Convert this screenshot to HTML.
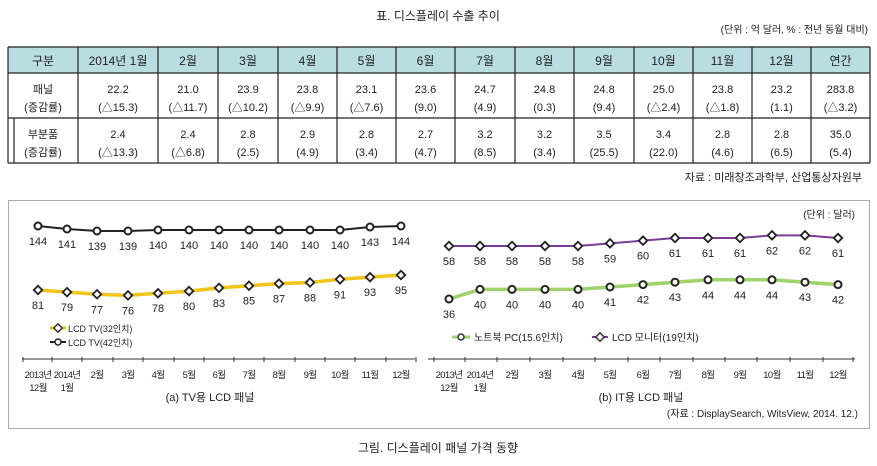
<!DOCTYPE html>
<html><head><meta charset="utf-8"><style>
body{margin:0;background:#fff;}
svg text{font-family:"Liberation Sans","Noto Sans CJK KR",sans-serif;fill:#222;}
</style></head><body>
<svg id="s" width="877" height="461" viewBox="0 0 877 461" xmlns="http://www.w3.org/2000/svg">
<text x="438" y="20" font-size="12" text-anchor="middle">표. 디스플레이 수출 추이</text>
<text x="868" y="33" font-size="10" text-anchor="end">(단위 : 억 달러, % : 전년 동월 대비)</text>
<rect x="8" y="47" width="862" height="26" fill="#b9dde0"/>
<g id="tbl" stroke="#222" stroke-width="1.2" fill="none">
<line x1="8" y1="47" x2="870" y2="47"/><line x1="8" y1="73" x2="870" y2="73"/>
<line x1="8" y1="118" x2="870" y2="118"/><line x1="8" y1="163" x2="870" y2="163"/>
<line x1="8" y1="47" x2="8" y2="163"/><line x1="14" y1="118" x2="14" y2="163"/>
</g>
<text x="862" y="181" font-size="11" text-anchor="end">자료 : 미래창조과학부, 산업통상자원부</text>
<rect x="8.5" y="200.5" width="861" height="228" fill="none" stroke="#aaa"/>
<text x="855" y="218" font-size="10" text-anchor="end">(단위 : 달러)</text>
<line x1="22" y1="359" x2="415" y2="359" stroke="#333"/>
<line x1="428" y1="359" x2="855" y2="359" stroke="#333"/>
<text x="210" y="401" font-size="11" text-anchor="middle">(a) TV용 LCD 패널</text>
<text x="641" y="401" font-size="11" text-anchor="middle">(b) IT용 LCD 패널</text>
<text x="858" y="417" font-size="10" text-anchor="end">(자료 : DisplaySearch, WitsView, 2014. 12.)</text>
<text x="438" y="452" font-size="12" text-anchor="middle">그림. 디스플레이 패널 가격 동향</text>
<line x1="50" y1="328" x2="66" y2="328" stroke="#e8c21a" stroke-width="3"/>
<rect x="55" y="325" width="6" height="6" transform="rotate(45 58 328)" fill="#fff" stroke="#333" stroke-width="1.5"/>
<text x="68" y="332" font-size="9">LCD TV(32인치)</text>
<line x1="50" y1="342" x2="66" y2="342" stroke="#222" stroke-width="2"/>
<circle cx="58" cy="342" r="3" fill="#fff" stroke="#222" stroke-width="1.5"/>
<text x="68" y="346" font-size="9">LCD TV(42인치)</text>
<line x1="452" y1="337" x2="470" y2="337" stroke="#9ed26a" stroke-width="3"/>
<circle cx="461" cy="337" r="3" fill="#fff" stroke="#333" stroke-width="1.5"/>
<text x="474" y="341" font-size="10">노트북 PC(15.6인치)</text>
<line x1="592" y1="337" x2="608" y2="337" stroke="#7a3d9a" stroke-width="2"/>
<rect x="597" y="334" width="6" height="6" transform="rotate(45 600 337)" fill="#fff" stroke="#333" stroke-width="1.5"/>
<text x="612" y="341" font-size="10">LCD 모니터(19인치)</text>
</svg>
<script>
const S=document.getElementById('s'),NS='http://www.w3.org/2000/svg';
function el(t,a,txt){const e=document.createElementNS(NS,t);for(const k in a)e.setAttribute(k,a[k]);if(txt!=null)e.textContent=txt;S.appendChild(e);return e;}
const cols=[8,78,158,218,278,337,396,455,515,574,634,693,752,811,870];
const tg=document.getElementById('tbl');
cols.slice(1).forEach(x=>{const l=document.createElementNS(NS,'line');l.setAttribute('x1',x);l.setAttribute('x2',x);l.setAttribute('y1',47);l.setAttribute('y2',163);tg.appendChild(l);});
const hdr=['구분','2014년 1월','2월','3월','4월','5월','6월','7월','8월','9월','10월','11월','12월','연간'];
const r1=[['패널','(증감률)'],['22.2','(△15.3)'],['21.0','(△11.7)'],['23.9','(△10.2)'],['23.8','(△9.9)'],['23.1','(△7.6)'],['23.6','(9.0)'],['24.7','(4.9)'],['24.8','(0.3)'],['24.8','(9.4)'],['25.0','(△2.4)'],['23.8','(△1.8)'],['23.2','(1.1)'],['283.8','(△3.2)']];
const r2=[['부분품','(증감률)'],['2.4','(△13.3)'],['2.4','(△6.8)'],['2.8','(2.5)'],['2.9','(4.9)'],['2.8','(3.4)'],['2.7','(4.7)'],['3.2','(8.5)'],['3.2','(3.4)'],['3.5','(25.5)'],['3.4','(22.0)'],['2.8','(4.6)'],['2.8','(6.5)'],['35.0','(5.4)']];
for(let i=0;i<14;i++){const cx=(cols[i]+cols[i+1])/2;
el('text',{x:cx,y:65,'font-size':12,'text-anchor':'middle'},hdr[i]);
el('text',{x:cx,y:93,'font-size':11,'text-anchor':'middle'},r1[i][0]);
el('text',{x:cx,y:111,'font-size':11,'text-anchor':'middle'},r1[i][1]);
el('text',{x:cx,y:138,'font-size':11,'text-anchor':'middle'},r2[i][0]);
el('text',{x:cx,y:156,'font-size':11,'text-anchor':'middle'},r2[i][1]);}
const xl=[38,67,97,128,158,189,219,249,279,310,340,370,401];
const xr=[449,480,512,545,578,610,643,675,708,740,772,805,838];
const labs=[['2013년','12월'],['2014년','1월'],['2월'],['3월'],['4월'],['5월'],['6월'],['7월'],['8월'],['9월'],['10월'],['11월'],['12월']];
function axis(xs){xs.forEach((x,i)=>{el('line',{x1:x-15,x2:x-15,y1:357,y2:362,stroke:'#333'});
el('text',{x:x,y:378,'font-size':9.5,'letter-spacing':-0.6,'text-anchor':'middle'},labs[i][0]);if(labs[i][1])el('text',{x:x,y:391,'font-size':9.5,'letter-spacing':-0.6,'text-anchor':'middle'},labs[i][1]);});
el('line',{x1:xs[12]+15,x2:xs[12]+15,y1:357,y2:362,stroke:'#333'});}
axis(xl);axis(xr);
function series(xs,vals,yf,col,w,mk,dy){const ys=vals.map(yf);
el('polyline',{points:xs.map((x,i)=>x+','+ys[i]).join(' '),fill:'none',stroke:col,'stroke-width':w});
xs.forEach((x,i)=>{if(mk=='c')el('circle',{cx:x,cy:ys[i],r:3.5,fill:'#fff',stroke:'#222','stroke-width':2});
else el('rect',{x:x-3,y:ys[i]-3,width:6,height:6,transform:`rotate(45 ${x} ${ys[i]})`,fill:'#fff',stroke:'#222','stroke-width':1.8});
el('text',{x:x,y:ys[i]+dy,'font-size':11,'text-anchor':'middle'},vals[i]);});}
series(xl,[144,141,139,139,140,140,140,140,140,140,140,143,144],v=>370-v,'#222',2,'c',19);
series(xl,[81,79,77,76,78,80,83,85,87,88,91,93,95],v=>290-(v-81)*1.07,'#f0c419',3.5,'d',19);
series(xr,[58,58,58,58,58,59,60,61,61,61,62,62,61],v=>246-(v-58)*2.67,'#7a3d9a',2,'d',19);
series(xr,[36,40,40,40,40,41,42,43,44,44,44,43,42],v=>299-(v-36)*2.4,'#9ed26a',3.5,'c',19);
</script>
</body></html>
